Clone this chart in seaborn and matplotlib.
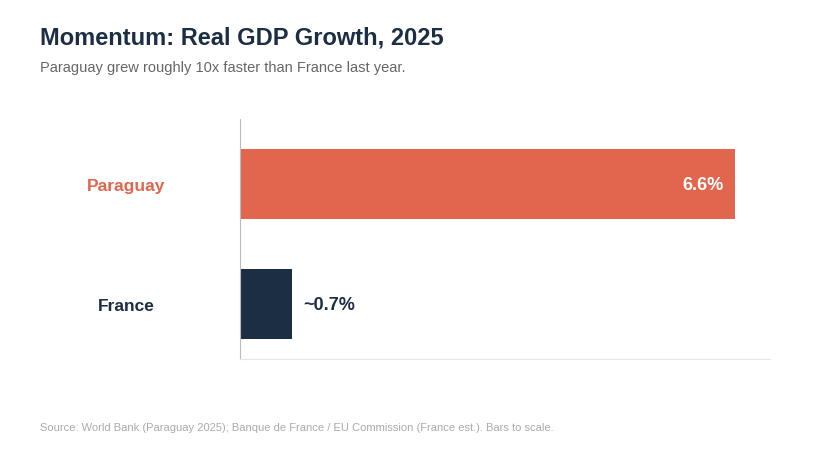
import matplotlib
matplotlib.use("Agg")
import matplotlib.pyplot as plt
import seaborn as sns
import pandas as pd

countries = ["Paraguay", "France"]
growth = [6.6, 0.7]
value_labels = ["6.6%", "~0.7%"]
colors = ["#E2654D", "#1B2E44"]

sns.set_style("white")
plt.rcParams['font.family'] = ['Liberation Sans', 'DejaVu Sans']

df = pd.DataFrame({"country": countries, "growth": growth})
fig = plt.figure(figsize=(8.2, 4.6), dpi=100)
ax = fig.add_axes([240/820, 1-360/460, 530/820, 240/460])
sns.barplot(data=df, x="growth", y="country", hue="country", palette=colors,
            width=0.58, ax=ax, legend=False, saturation=1)
for p in ax.patches:
    p.set_linewidth(0)
ax.set_xlim(0, 530/75)
ax.set_ylim(1 + 55/120, -65/120)
ax.set_xlabel(""); ax.set_ylabel("")
ax.set_xticks([])
ax.tick_params(axis='y', length=0, pad=82)
for lab, c in zip(ax.get_yticklabels(), colors):
    lab.set_color(c); lab.set_fontweight('bold'); lab.set_fontsize(12.5)
    lab.set_horizontalalignment('center')
for s in ["top", "right"]:
    ax.spines[s].set_visible(False)
ax.spines["left"].set_color("#BBBBBB")
ax.spines["bottom"].set_color("#E5E5E5")

ax.text(growth[0] - 0.15, 0, value_labels[0], ha='right', va='center',
        color='white', fontsize=13, fontweight='bold')
ax.text(growth[1] + 0.15, 1, value_labels[1], ha='left', va='center',
        color='#1B2E44', fontsize=13, fontweight='bold')

fig.text(40/820, 1-38/460, "Momentum: Real GDP Growth, 2025", fontsize=17,
         fontweight='bold', color='#1B2E44', va='center')
fig.text(40/820, 1-68/460, "Paraguay grew roughly 10x faster than France last year.",
         fontsize=10.5, color='#666666', va='center')
fig.text(40/820, 1-428/460, "Source: World Bank (Paraguay 2025); Banque de France / EU Commission (France est.). Bars to scale.",
         fontsize=8, color='#AAAAAA', va='center')
fig.savefig("out.png", dpi=100)
